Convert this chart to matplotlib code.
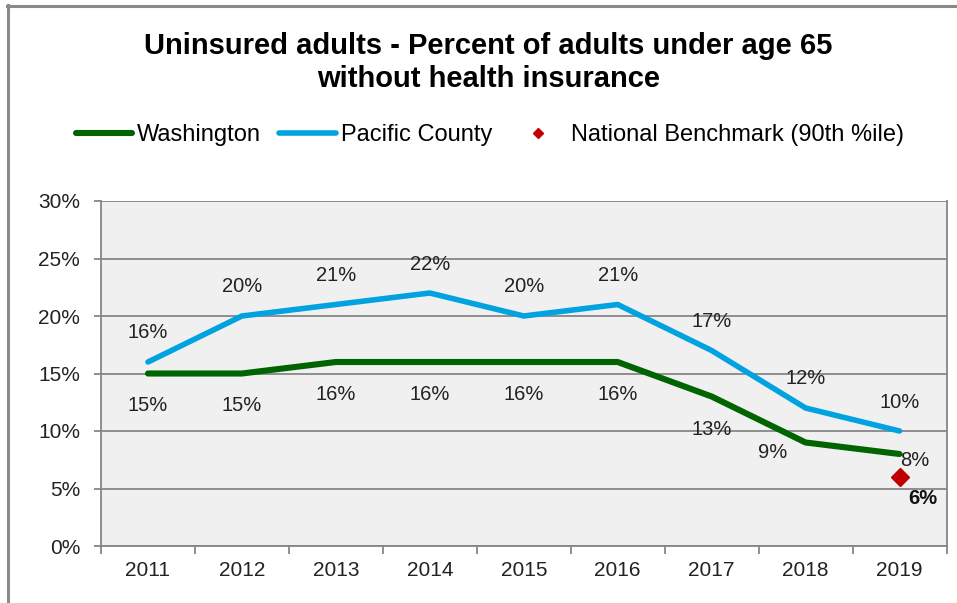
import matplotlib
matplotlib.use("Agg")
import matplotlib.pyplot as plt
from matplotlib.lines import Line2D
from matplotlib.ticker import FixedLocator, FuncFormatter

plt.rcParams['font.family'] = ['Liberation Sans', 'DejaVu Sans']

years = ["2011", "2012", "2013", "2014", "2015", "2016", "2017", "2018", "2019"]
washington = [15, 15, 16, 16, 16, 16, 13, 9, 8]
pacific = [16, 20, 21, 22, 20, 21, 17, 12, 10]
benchmark_year = "2019"
benchmark_value = 6

title = "Uninsured adults - Percent of adults under age 65\nwithout health insurance"
series_names = ["Washington", "Pacific County", "National Benchmark (90th %ile)"]

# label offsets in pixels (style)
wa_offsets = [(0, -32)] * 6 + [(0, -33), (-33, -10), (15, -6)]
pc_offsets = [(0, 29)] * 9

W, H = 957, 603
fig = plt.figure(figsize=(W / 100, H / 100), dpi=100)
fig.patch.set_facecolor("white")

ax = fig.add_axes([101 / W, (H - 546) / H, (946.5 - 101) / W, (546 - 201) / H])
ax.set_facecolor("#F0F0F0")

x = list(range(len(years)))
green = "#006400"
blue = "#00A3E0"
red = "#C00000"

l1, = ax.plot(x, washington, color=green, lw=4.4, solid_capstyle="round", zorder=3)
l2, = ax.plot(x, pacific, color=blue, lw=4.0, solid_capstyle="round", zorder=3)
bx = years.index(benchmark_year)
ax.plot([bx], [benchmark_value], marker="D", ms=9.5, color=red, ls="none", zorder=4)

ax.set_xlim(-0.5, len(years) - 0.5)
ax.set_ylim(0, 30)

for i, v in enumerate(washington):
    ax.annotate(f"{v}%", (i, v), xytext=wa_offsets[i], textcoords="offset pixels",
                ha="center", va="center", fontsize=14.5, color="#222222", zorder=5)
for i, v in enumerate(pacific):
    ax.annotate(f"{v}%", (i, v), xytext=pc_offsets[i], textcoords="offset pixels",
                ha="center", va="center", fontsize=14.5, color="#222222", zorder=5)
ax.annotate(f"{benchmark_value}%", (bx, benchmark_value), xytext=(23, -22),
            textcoords="offset pixels", ha="center", va="center", fontsize=14.5,
            fontweight="bold", color="#111111", zorder=5)

# y axis
ax.set_yticks([0, 5, 10, 15, 20, 25, 30])
ax.yaxis.set_major_formatter(FuncFormatter(lambda v, p: f"{int(v)}%"))
ax.yaxis.grid(True, color="#868686", lw=1.3)
ax.set_axisbelow(True)
ax.tick_params(axis="y", length=5, width=1.3, color="#868686", pad=10,
               labelsize=15, labelcolor="#222222")

# x axis
ax.set_xticks(x)
ax.set_xticklabels(years)
ax.xaxis.set_minor_locator(FixedLocator([i - 0.5 for i in range(len(years) + 1)]))
ax.tick_params(axis="x", which="major", length=0, pad=11, labelsize=15, labelcolor="#222222")
ax.tick_params(axis="x", which="minor", length=6, width=1.3, color="#868686")

for s in ["left", "bottom", "right"]:
    ax.spines[s].set_color("#868686")
    ax.spines[s].set_linewidth(1.3)
ax.spines["top"].set_visible(False)

# title
fig.text(488.5 / W, (H - 62.5) / H, title, ha="center", va="center",
         fontsize=21, fontweight="bold", linespacing=1.22, color="black")

# legend
handles = [
    Line2D([], [], color=green, lw=4.4, solid_capstyle="round"),
    Line2D([], [], color=blue, lw=4.0, solid_capstyle="round"),
    Line2D([], [], color=red, marker="D", ms=5.5, ls="none"),
]
fig.legend(handles, series_names, loc="center", bbox_to_anchor=(490 / W, (H - 135) / H),
           ncol=3, frameon=False, fontsize=17, handlelength=2.4, handletextpad=0.2,
           columnspacing=0.76, borderpad=0, borderaxespad=0)

# outer chart frame (top and left)
fig.add_artist(Line2D([7 / W, 1], [(H - 6) / H, (H - 6) / H], color="#8A8A8A", lw=2.2,
                      transform=fig.transFigure))
fig.add_artist(Line2D([8 / W, 8 / W], [0, (H - 5) / H], color="#8A8A8A", lw=2.2,
                      transform=fig.transFigure))

fig.savefig("out.png", dpi=100)
